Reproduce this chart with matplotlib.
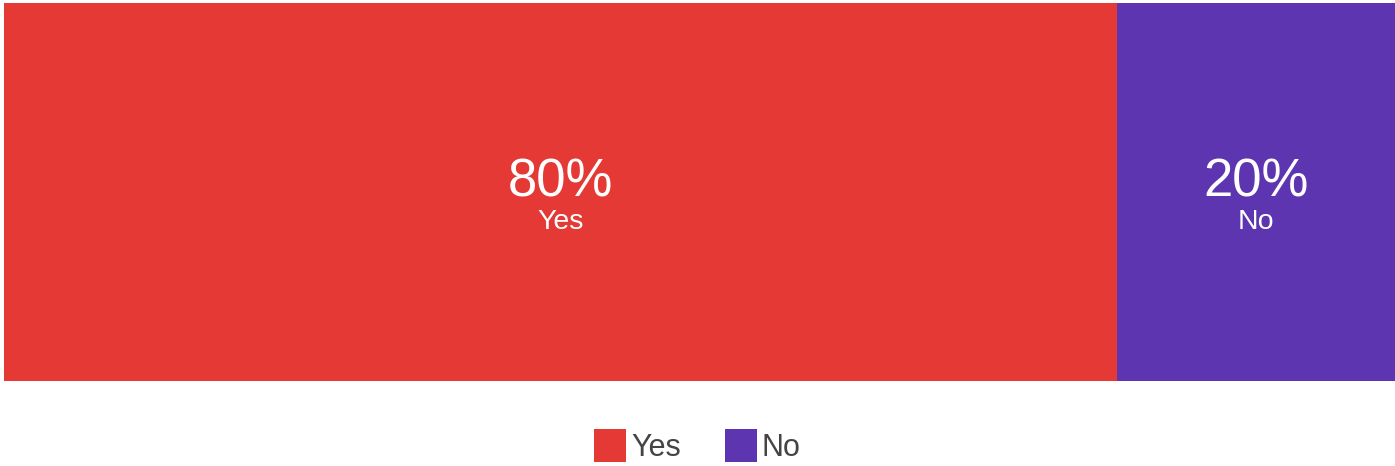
import matplotlib
matplotlib.use("Agg")
import matplotlib.pyplot as plt
from matplotlib.patches import Patch

plt.rcParams['font.family'] = ['Liberation Sans', 'DejaVu Sans']

# data
categories = ['Yes', 'No']
shares = [80, 20]
colors = ['#E53935', '#5E35B1']

W, H = 1395, 466
fig = plt.figure(figsize=(W / 100, H / 100), dpi=100)

# axes covering the bar area (pixel box 4..1395 x 3..381)
ax = fig.add_axes([4 / W, (H - 381) / H, 1391 / W, 378 / H])

left = 0
for cat, val, col in zip(categories, shares, colors):
    ax.barh(0, val, left=left, height=1, color=col, edgecolor='none')
    mid = left + val / 2
    ax.text(mid, -0.5 + 0.487, f'{val}%', ha='center', va='baseline',
            color='white', fontsize=38)
    ax.text(mid, -0.5 + 0.402, cat, ha='center', va='baseline',
            color='white', fontsize=20.5)
    left += val

ax.set_xlim(0, sum(shares))
ax.set_ylim(-0.5, 0.5)
ax.axis('off')

handles = [Patch(facecolor=c, edgecolor='none') for c in colors]
fig.legend(handles, categories, loc='center', bbox_to_anchor=(0.5, 1 - 446 / H),
           ncol=2, frameon=False, fontsize=22, handlelength=1.05, handleheight=1.3,
           handletextpad=0.15, columnspacing=1.45, labelcolor='#444444')

fig.savefig('out.png', dpi=100)
